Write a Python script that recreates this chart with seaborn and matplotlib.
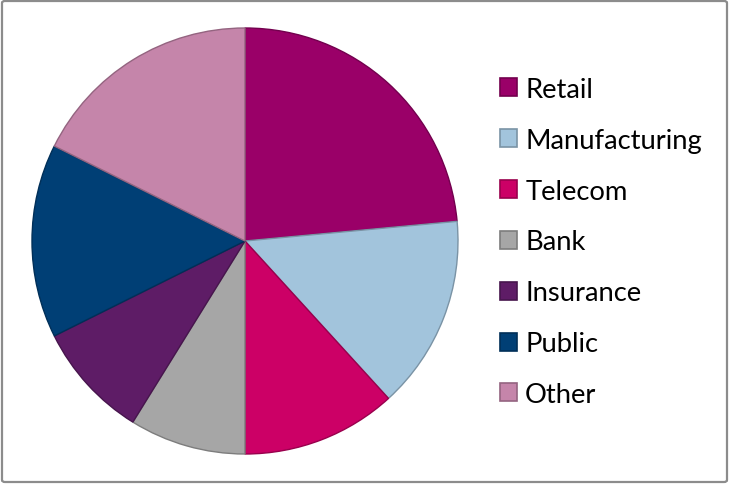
import matplotlib
matplotlib.use("Agg")
import matplotlib.pyplot as plt
import matplotlib.colors as mcolors
from matplotlib.patches import Patch, FancyBboxPatch
import seaborn as sns

# Industry share of projects
sectors = ["Retail", "Manufacturing", "Telecom", "Bank", "Insurance", "Public", "Other"]
counts = [8, 5, 4, 3, 3, 5, 6]
colors = ["#9A0068", "#A2C4DC", "#CC0066", "#A6A6A6", "#5E1C66", "#003F75", "#C585AA"]

sns.set_theme(style="white")
plt.rcParams["font.family"] = ["Lato", "DejaVu Sans"]

W, H = 729, 485
fig = plt.figure(figsize=(W / 100, H / 100), dpi=100)
fig.patch.set_facecolor("white")

# pie placed so its centre and radius sit at fixed pixel positions
cx, cy, r = 245, 242, 213
lim = 1.01
half = r * lim
ax = fig.add_axes([(cx - half) / W, (H - cy - half) / H, 2 * half / W, 2 * half / H])
ax.set_aspect("equal")

def darker(c, f=0.75):
    rgb = mcolors.to_rgb(c)
    return tuple(v * f for v in rgb)

wedges, _ = ax.pie(counts, colors=colors, startangle=90, counterclock=False,
                   radius=1.0, wedgeprops=dict(linewidth=1.0))
for w, c in zip(wedges, colors):
    w.set_edgecolor(darker(c))
ax.set_xlim(-lim, lim)
ax.set_ylim(-lim, lim)
ax.axis("off")

handles = [Patch(facecolor=c, edgecolor=darker(c), linewidth=1.2) for c in colors]
leg = fig.legend(handles, sectors, loc="center left",
                 bbox_to_anchor=(500 / W, 1 - 243 / H), frameon=False,
                 fontsize=19.7, handlelength=0.63, handleheight=0.63,
                 handletextpad=0.29, labelspacing=0.945, borderpad=0,
                 borderaxespad=0)
for t in leg.get_texts():
    t.set_color("black")

# rounded grey frame around the chart area
frame = FancyBboxPatch((2 / W, 2 / H), 1 - 4 / W, 1 - 4 / H,
                       boxstyle="round,pad=0,rounding_size=0.004",
                       transform=fig.transFigure, facecolor="none",
                       edgecolor="#8C8C8C", linewidth=1.6)
fig.patches.append(frame)

fig.savefig("out.png", dpi=100, facecolor="white")
